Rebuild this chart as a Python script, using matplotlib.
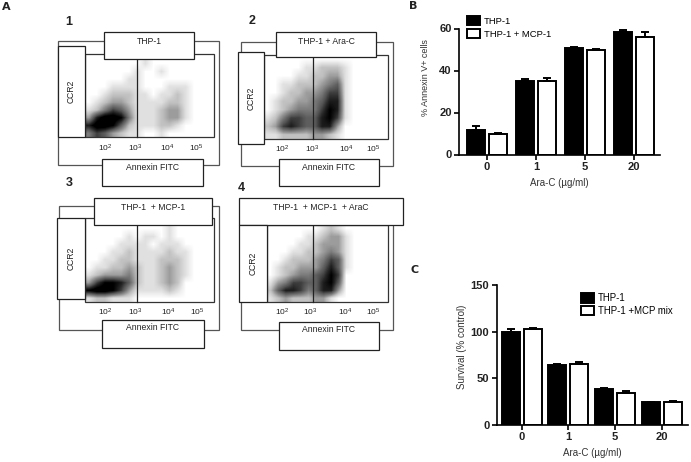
# four flow cytometry panels (A) and two grouped bar charts (B, C), composite figure

import numpy as np
import matplotlib
matplotlib.use('Agg')
import matplotlib.pyplot as plt
from matplotlib.colors import PowerNorm
from matplotlib.patches import Rectangle

plt.rcParams['font.family'] = ['Liberation Sans', 'DejaVu Sans']
plt.rcParams['mathtext.default'] = 'regular'

W, H = 691, 462

# bar chart B
doses = ['0', '1', '5', '20']
annexin_thp1 = [11.5, 35, 50.5, 58.3]
annexin_thp1_err = [2.2, 1, 0.5, 0.8]
annexin_mcp1 = [9.7, 35, 50, 56]
annexin_mcp1_err = [0.5, 1.5, 0.4, 2.3]

# bar chart C
survival_thp1 = [99.5, 64.5, 38.5, 24]
survival_thp1_err = [3, 0.5, 0.5, 0.5]
survival_mcp = [102.5, 65, 34.5, 24]
survival_mcp_err = [0.8, 2, 2, 1]

# flow panels: darkness of the dot cloud read by eye on a coarse grid, 0 = none, 9 = solid
decade_labels = ['10$^{2}$', '10$^{3}$', '10$^{4}$', '10$^{5}$']

density_1 = [[0, 0, 0, 0, 0, 0, 0, 1, 0, 0, 0, 0, 0, 0, 0, 0],
             [0, 0, 0, 0, 0, 0, 1, 0, 0, 1, 0, 0, 0, 0, 0, 0],
             [0, 0, 0, 0, 0, 1, 1, 0, 0, 0, 0, 0, 0, 0, 0, 0],
             [0, 0, 0, 1, 1, 1, 1, 0, 0, 0, 1, 1, 1, 0, 0, 0],
             [0, 0, 1, 2, 2, 2, 1, 1, 0, 1, 1, 2, 1, 0, 0, 0],
             [0, 1, 2, 3, 3, 2, 1, 1, 1, 1, 2, 2, 1, 0, 0, 0],
             [1, 2, 4, 6, 5, 3, 1, 1, 1, 2, 3, 3, 1, 0, 0, 0],
             [3, 7, 9, 9, 8, 4, 1, 1, 1, 2, 3, 3, 1, 0, 0, 0],
             [7, 9, 9, 8, 5, 2, 1, 1, 1, 2, 2, 1, 0, 0, 0, 0],
             [4, 6, 5, 3, 2, 1, 1, 0, 0, 1, 0, 0, 0, 0, 0, 0]]

density_2 = [[0, 0, 0, 0, 0, 0, 0, 0, 0, 0, 0, 0, 0, 0, 0, 0],
             [0, 0, 0, 0, 0, 1, 1, 2, 2, 2, 1, 0, 0, 0, 0, 0],
             [0, 0, 0, 0, 1, 1, 2, 2, 3, 3, 1, 0, 0, 0, 0, 0],
             [0, 0, 1, 1, 2, 2, 2, 3, 4, 5, 1, 0, 0, 0, 0, 0],
             [0, 0, 1, 2, 2, 3, 3, 4, 6, 6, 1, 0, 0, 0, 0, 0],
             [0, 1, 2, 2, 3, 3, 4, 5, 7, 7, 1, 0, 0, 0, 0, 0],
             [0, 1, 2, 3, 4, 4, 4, 6, 8, 7, 1, 0, 0, 0, 0, 0],
             [1, 2, 4, 6, 6, 5, 5, 7, 8, 6, 1, 0, 0, 0, 0, 0],
             [2, 3, 6, 7, 6, 5, 5, 7, 7, 3, 0, 0, 0, 0, 0, 0],
             [1, 1, 2, 2, 2, 2, 3, 3, 2, 1, 0, 0, 0, 0, 0, 0]]

density_3 = [[0, 0, 0, 0, 0, 0, 0, 0, 0, 0, 1, 0, 0, 0, 0, 0],
             [0, 0, 0, 0, 0, 1, 0, 1, 1, 0, 1, 0, 0, 0, 0, 0],
             [0, 0, 0, 0, 1, 1, 1, 1, 0, 1, 1, 1, 0, 0, 0, 0],
             [0, 0, 0, 1, 1, 2, 1, 1, 1, 1, 2, 1, 1, 0, 0, 0],
             [0, 0, 1, 1, 2, 2, 1, 1, 1, 2, 2, 2, 1, 0, 0, 0],
             [0, 1, 1, 2, 2, 3, 2, 1, 1, 2, 3, 2, 1, 0, 0, 0],
             [1, 2, 3, 3, 3, 4, 2, 1, 1, 2, 3, 2, 1, 0, 0, 0],
             [3, 6, 8, 8, 7, 5, 2, 1, 1, 2, 3, 2, 0, 0, 0, 0],
             [8, 9, 9, 8, 6, 3, 1, 1, 1, 1, 2, 1, 0, 0, 0, 0],
             [1, 2, 2, 1, 1, 1, 0, 0, 0, 0, 0, 0, 0, 0, 0, 0]]

density_4 = [[0, 0, 0, 0, 0, 0, 0, 1, 2, 1, 0, 0, 0, 0, 0, 0],
             [0, 0, 0, 0, 0, 1, 1, 2, 3, 3, 1, 0, 0, 0, 0, 0],
             [0, 0, 0, 0, 1, 1, 2, 3, 3, 3, 1, 0, 0, 0, 0, 0],
             [0, 0, 0, 1, 1, 2, 2, 3, 4, 3, 1, 0, 0, 0, 0, 0],
             [0, 0, 1, 2, 2, 2, 3, 4, 6, 5, 1, 0, 0, 0, 0, 0],
             [0, 1, 2, 2, 3, 3, 3, 5, 7, 5, 1, 0, 0, 0, 0, 0],
             [0, 1, 2, 3, 4, 4, 5, 6, 8, 6, 0, 0, 0, 0, 0, 0],
             [1, 3, 4, 6, 6, 5, 5, 7, 8, 5, 0, 0, 0, 0, 0, 0],
             [2, 5, 7, 7, 6, 4, 5, 7, 7, 3, 0, 0, 0, 0, 0, 0],
             [1, 2, 3, 2, 2, 2, 3, 3, 1, 0, 0, 0, 0, 0, 0, 0]]


# box given in pixels of the figure, top left origin
def box(ax, x0, y0, x1, y1, color='#222222', fill=True, lw=0.9, z=3):
    ax.add_patch(Rectangle((x0, y0), x1 - x0, y1 - y0, facecolor='white' if fill else 'none',
                           edgecolor=color, linewidth=lw, zorder=z))


def flow_panel(ax, density, title, outer, inner, image_top, title_box, ccr2_box, annexin_box, vline_x, vline_top, tick_x, tick_y):
    box(ax, *outer, color='#555555', fill=False, z=1)
    ax.imshow(density, cmap='Greys', norm=PowerNorm(0.75, vmin=0, vmax=8), interpolation='bilinear', aspect='auto', zorder=2,
              extent=(inner[0], inner[2], inner[3], image_top))
    box(ax, *inner, color='#333333', fill=False, z=3)
    ax.plot([vline_x, vline_x], [vline_top, inner[3]], color='#222222', lw=0.9, zorder=3)
    for b in (title_box, ccr2_box, annexin_box):
        box(ax, *b, z=4)
    ax.text((title_box[0] + title_box[2]) / 2, title_box[1] + 9, title, ha='center', va='center', fontsize=6.2, color='#222222', zorder=5)
    ax.text((ccr2_box[0] + ccr2_box[2]) / 2, (ccr2_box[1] + ccr2_box[3]) / 2, 'CCR2', rotation=90, ha='center', va='center', fontsize=6.2, color='#222222', zorder=5)
    ax.text((annexin_box[0] + annexin_box[2]) / 2, annexin_box[1] + 8, 'Annexin FITC', ha='center', va='center', fontsize=6.2, color='#222222', zorder=5)
    for x, lab in zip(tick_x, decade_labels):
        ax.text(x, tick_y, lab, ha='center', va='center', fontsize=6, color='#222222')


def bar_panel(fig, rect, vals1, err1, vals2, err2, ylim, yticks, ylabel, ylabel_xy, ylabel_fs, first_centre, pitch, names, legend_xy, legend_fs):
    x0, y0, x1, y1 = rect
    ax = fig.add_axes([x0 / W, 1 - y1 / H, (x1 - x0) / W, (y1 - y0) / H])
    pos = np.arange(len(doses))
    width = 18 / pitch
    off = 11 / pitch
    ax.bar(pos - off, vals1, width, color='black', edgecolor='black', linewidth=1.4, label=names[0],
           yerr=[np.zeros(len(err1)), err1], error_kw=dict(ecolor='black', elinewidth=1.4, capsize=3, capthick=1.4))
    ax.bar(pos + off, vals2, width, color='white', edgecolor='black', linewidth=1.4, label=names[1],
           yerr=[np.zeros(len(err2)), err2], error_kw=dict(ecolor='black', elinewidth=1.4, capsize=3, capthick=1.4))
    ax.set_xlim((x0 - first_centre) / pitch, (x1 - first_centre) / pitch)
    ax.set_ylim(*ylim)
    ax.set_yticks(yticks)
    ax.set_xticks(pos)
    ax.set_xticklabels(doses)
    ax.spines['top'].set_visible(False)
    ax.spines['right'].set_visible(False)
    ax.spines['left'].set_linewidth(1.2)
    ax.spines['bottom'].set_linewidth(1.2)
    ax.tick_params(width=1.2, length=3.5, labelsize=8, pad=2, labelcolor='#222222')
    for lab in ax.get_xticklabels() + ax.get_yticklabels():
        lab.set_fontweight('bold')
    ax.set_ylabel(ylabel, fontsize=ylabel_fs, color='#333333')
    ax.yaxis.set_label_coords((ylabel_xy[0] - x0) / (x1 - x0), 1 - (ylabel_xy[1] - y0) / (y1 - y0))
    ax.set_xlabel('Ara-C (µg/ml)', fontsize=7, color='#333333', labelpad=4)
    ax.legend(loc='upper left', bbox_to_anchor=((legend_xy[0] - x0) / (x1 - x0), 1 - (legend_xy[1] - y0) / (y1 - y0)),
              frameon=False, fontsize=legend_fs, handlelength=1.35, handleheight=1.15, handletextpad=0.45,
              labelspacing=0.3, borderaxespad=0, borderpad=0)
    return ax


fig = plt.figure(figsize=(W / 100, H / 100), dpi=100)

bg = fig.add_axes([0, 0, 1, 1])
bg.set_xlim(0, W)
bg.set_ylim(H, 0)
bg.axis('off')

flow_panel(bg, density_1, 'THP-1', (58.5, 41, 219, 165), (85, 54, 214, 137), 60, (104, 32, 194, 59), (58, 46, 85, 137), (102, 159, 203, 186),
           137, 59, [105, 135, 167, 196], 148)
flow_panel(bg, density_2, 'THP-1 + Ara-C', (241, 42, 393, 166), (264, 55, 388, 139), 55, (276, 32, 376, 57), (238, 52, 264, 144), (279, 159, 379, 186),
           313.5, 57, [282, 312, 346, 373], 149)
flow_panel(bg, density_3, 'THP-1  + MCP-1', (59.5, 206, 219, 330), (85, 218, 214, 302), 225, (94, 198, 212, 225), (57, 218, 85, 299), (102, 320, 204, 348),
           137, 225, [105, 135, 168, 197], 312)
flow_panel(bg, density_4, 'THP-1  + MCP-1  + AraC', (241, 206, 393, 330), (267, 225, 388, 302), 225, (239, 198, 403, 225), (239, 225, 267, 302), (279, 322, 379, 350),
           313, 225, [282, 310, 345, 373], 312)

for x, y, lab in [(69, 22, '1'), (252, 21, '2'), (69, 183, '3'), (241, 188, '4')]:
    bg.text(x, y, lab, ha='center', va='center', fontsize=9, fontweight='bold', color='#222222')
for x, y, lab in [(6, 7, 'A'), (413, 6, 'B'), (415, 270, 'C')]:
    bg.text(x, y, lab, ha='center', va='center', fontsize=8, fontweight='bold', family='DejaVu Sans', color='#222222')

bar_panel(fig, (459.5, 28.5, 660, 154.5), annexin_thp1, annexin_thp1_err, annexin_mcp1, annexin_mcp1_err,
          (0, 60), [0, 20, 40, 60], '% Annexin V+ cells', (430, 78), 6.5, 487, 49, ['THP-1', 'THP-1 + MCP-1'], (467, 16), 6.8)
bar_panel(fig, (497, 285, 688, 424.7), survival_thp1, survival_thp1_err, survival_mcp, survival_mcp_err,
          (0, 150), [0, 50, 100, 150], 'Survival (% control)', (467, 347), 7, 521.7, 46.7, ['THP-1', 'THP-1 +MCP mix'], (581, 293), 6.9)

fig.savefig('out.png', dpi=100)
